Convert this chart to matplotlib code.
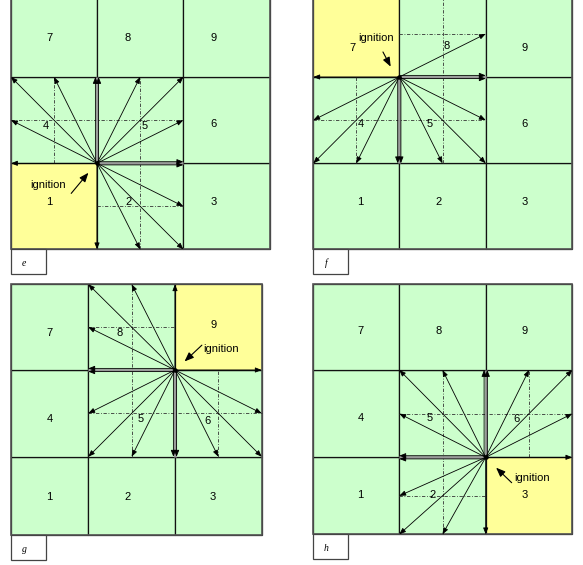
import numpy as np
import matplotlib.pyplot as plt
from matplotlib.patches import Rectangle

# cell numbers, row 0 is the bottom row
CELL_IDS = [[1, 2, 3], [4, 5, 6], [7, 8, 9]]
PANELS = ['e', 'f', 'g', 'h']
IGNITION = {'e': 1, 'f': 7, 'g': 9, 'h': 3}

GREEN = '#ccffcc'
YELLOW = '#ffff99'

# panel frames in pixels: column edges left->right, row edges bottom->top
X_EDGES = {'e': [11, 97, 183.3, 270], 'f': [313.3, 399.3, 485.7, 572.3],
           'g': [11, 88.3, 175, 261.7], 'h': [313.3, 399.3, 485.7, 572.3]}
Y_EDGES = {'e': [249.3, 163.3, 77, -9.3], 'f': [249.3, 163.3, 77, -9.3],
           'g': [535, 456.7, 370, 284.3], 'h': [534.3, 457.3, 370, 284.3]}

# where the cell numbers sit, in cell units
LABEL_POS = {
    'e': {7: (0.45, 2.45), 8: (1.36, 2.45), 9: (2.35, 2.45), 4: (0.40, 1.43), 5: (1.55, 1.43),
          6: (2.35, 1.45), 1: (0.45, 0.55), 2: (1.36, 0.55), 3: (2.35, 0.55)},
    'f': {7: (0.45, 2.34), 8: (1.55, 2.36), 9: (2.45, 2.34), 4: (0.55, 1.45), 5: (1.35, 1.45),
          6: (2.45, 1.45), 1: (0.55, 0.55), 2: (1.45, 0.55), 3: (2.45, 0.55)},
    'g': {7: (0.50, 2.43), 8: (1.36, 2.43), 9: (2.44, 2.52), 4: (0.50, 1.43), 5: (1.60, 1.43),
          6: (2.38, 1.41), 1: (0.50, 0.48), 2: (1.45, 0.48), 3: (2.44, 0.48)},
    'h': {7: (0.55, 2.45), 8: (1.45, 2.45), 9: (2.45, 2.45), 4: (0.55, 1.45), 5: (1.35, 1.45),
          6: (2.35, 1.44), 1: (0.55, 0.51), 2: (1.39, 0.51), 3: (2.45, 0.51)},
}
# "ignition" note: text position, arrow tail, arrow head (cell units)
NOTE = {
    'e': ((0.43, 0.75), (0.70, 0.65), (0.90, 0.89)),
    'f': ((0.73, 2.45), (0.81, 2.29), (0.90, 2.12)),
    'g': ((2.53, 2.24), (2.31, 2.29), (2.11, 2.10)),
    'h': ((2.53, 0.73), (2.30, 0.67), (2.12, 0.865)),
}

W, H = 583, 565
fig = plt.figure(figsize=(W / 100, H / 100), dpi=100)
ax = fig.add_axes([0, 0, 1, 1])
ax.set_xlim(0, W)
ax.set_ylim(H, 0)
ax.axis('off')

SANS = ['Liberation Sans', 'DejaVu Sans']
HEAD = '-|>,head_length=0.38,head_width=0.15'


def to_px(p, cx, cy):
    return (np.interp(cx, [0, 1, 2, 3], X_EDGES[p]),
            np.interp(cy, [0, 1, 2, 3], Y_EDGES[p]))


def arrow(a, b, lw=0.6, style=HEAD, z=5):
    ax.annotate('', xy=b, xytext=a,
                arrowprops=dict(arrowstyle=style, lw=lw, color='k', shrinkA=0,
                                shrinkB=0, mutation_scale=10), zorder=z)


for p in PANELS:
    ign = IGNITION[p]
    ir = [r for r in range(3) if ign in CELL_IDS[r]][0]
    ic = CELL_IDS[ir].index(ign)

    # cells
    for r in range(3):
        for c in range(3):
            x0, y0 = to_px(p, c, r)
            x1, y1 = to_px(p, c + 1, r + 1)
            fc = YELLOW if CELL_IDS[r][c] == ign else GREEN
            ax.add_patch(Rectangle((x0, y1), x1 - x0, y0 - y1, facecolor=fc,
                                   edgecolor='#111111', lw=0.9, zorder=1))
            lx, ly = LABEL_POS[p][CELL_IDS[r][c]]
            ax.text(*to_px(p, lx, ly), str(CELL_IDS[r][c]), ha='center', va='center',
                    fontsize=8, family=SANS, zorder=6)
    x0, y0 = to_px(p, 0, 0)
    x1, y1 = to_px(p, 3, 3)
    ax.add_patch(Rectangle((x0, y1), x1 - x0, y0 - y1, fill=False,
                           edgecolor='#555555', lw=1.2, zorder=2))

    # corner of the ignition cell facing the grid centre
    ox = ic + 1 if ic == 0 else ic
    oy = ir + 1 if ir == 0 else ir
    org = to_px(p, ox, oy)

    # dash-dot midlines of the burnable cells in the 2x2 neighbourhood
    bx = [ox - 1, ox]
    by = [oy - 1, oy]
    for c in bx:
        rows = [r for r in by if (r, c) != (ir, ic)]
        a = to_px(p, c + 0.5, min(rows))
        b = to_px(p, c + 0.5, max(rows) + 1)
        ax.plot([a[0], b[0]], [a[1], b[1]], color='#333333', lw=0.6,
                ls=(0, (4, 2, 1, 2)), zorder=3)
    for r in by:
        cols = [c for c in bx if (r, c) != (ir, ic)]
        a = to_px(p, min(cols), r + 0.5)
        b = to_px(p, max(cols) + 1, r + 0.5)
        ax.plot([a[0], b[0]], [a[1], b[1]], color='#333333', lw=0.6,
                ls=(0, (4, 2, 1, 2)), zorder=3)

    # spread vectors to the half-cell points on the neighbourhood border
    steps = np.arange(0, 2.01, 0.5)
    pts = set()
    for s in steps:
        pts.update({(ox - 1 + s, oy - 1), (ox - 1 + s, oy + 1),
                    (ox - 1, oy - 1 + s), (ox + 1, oy - 1 + s)})
    for tx, ty in sorted(pts):
        inside = (ic <= tx <= ic + 1) and (ir <= ty <= ir + 1)
        axial = tx == ox or ty == oy
        if inside and not axial:
            continue
        tgt = to_px(p, tx, ty)
        if axial and not inside:
            # double-line main axis vector
            vertical = tx == ox
            ax.plot([org[0], tgt[0]], [org[1], tgt[1]], color='#9a9a9a',
                    lw=2.0, solid_capstyle='butt', zorder=4)
            for d in (-1.6, 1.6):
                dx, dy = (d, 0) if vertical else (0, d)
                arrow((org[0] + dx, org[1] + dy), (tgt[0] + dx, tgt[1] + dy))
        else:
            arrow(org, tgt)
    ax.plot(*org, 'o', ms=2.2, color='k', zorder=6)

    # ignition note
    (tx, ty), a, b = NOTE[p]
    ax.text(*to_px(p, tx, ty), 'ignition', ha='center', va='center', fontsize=8,
            family=SANS, zorder=6)
    arrow(to_px(p, *a), to_px(p, *b), lw=0.8,
          style='-|>,head_length=0.55,head_width=0.22', z=6)

    # panel tag box under the grid
    bx0, by0 = x0, y0
    ax.add_patch(Rectangle((bx0, by0), 34.5, 25, facecolor='white',
                           edgecolor='#444444', lw=0.9, zorder=2))
    ax.text(bx0 + 13, by0 + 14, p, ha='center', va='center', fontsize=7,
            family=['Liberation Serif', 'DejaVu Serif'], style='italic', zorder=6)

fig.savefig('out.png', dpi=100)
